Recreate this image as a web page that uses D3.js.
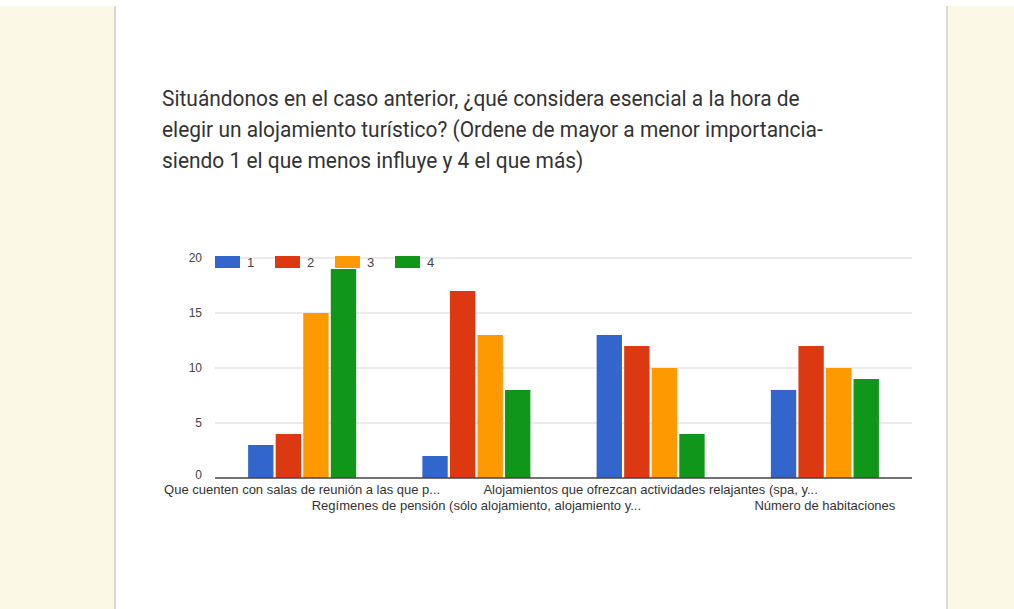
<!DOCTYPE html>
<html>
<head>
<meta charset="utf-8">
<script src="https://cdn.jsdelivr.net/npm/d3@7"></script>
<style>
  body { margin: 0; background: #fff; }
  svg { display: block; }
</style>
</head>
<body>
<svg width="1014" height="609"></svg>
<script>
  // chart data
  const categories = [
    'Que cuenten con salas de reunión a las que p...',
    'Regímenes de pensión (sólo alojamiento, alojamiento y...',
    'Alojamientos que ofrezcan actividades relajantes (spa, y...',
    'Número de habitaciones'
  ];
  const seriesNames = ['1', '2', '3', '4'];
  const series1 = [3, 2, 13, 8];
  const series2 = [4, 17, 12, 12];
  const series3 = [15, 13, 10, 10];
  const series4 = [19, 8, 4, 9];
  const yTicks = [0, 5, 10, 15, 20];
  const colors = ['#3366cc', '#dc3912', '#ff9900', '#109618'];
  const titleLines = [
    'Situándonos en el caso anterior, ¿qué considera esencial a la hora de',
    'elegir un alojamiento turístico? (Ordene de mayor a menor importancia-',
    'siendo 1 el que menos influye y 4 el que más)'
  ];

  const allSeries = [series1, series2, series3, series4];
  const data = categories.map((c, i) => ({
    cat: c,
    values: allSeries.map((s, j) => ({ key: seriesNames[j], value: s[i] }))
  }));

  const svg = d3.select('svg');

  // page background panels
  svg.append('rect').attr('x', 0).attr('y', 6).attr('width', 114).attr('height', 603).attr('fill', '#fbf9e6');
  svg.append('rect').attr('x', 114).attr('y', 6).attr('width', 2).attr('height', 603).attr('fill', '#d8d8d0');
  svg.append('rect').attr('x', 948).attr('y', 6).attr('width', 66).attr('height', 603).attr('fill', '#fbf9e6');
  svg.append('rect').attr('x', 946).attr('y', 6).attr('width', 2).attr('height', 603).attr('fill', '#dcdcd4');

  // title (the screenshot is a bit squeezed sideways, so scale x)
  svg.append('g')
    .selectAll('text')
    .data(titleLines)
    .enter()
    .append('text')
      .attr('transform', (d, i) => 'translate(162,' + (106 + i * 31) + ') scale(0.93,1)')
      .attr('font-family', 'Roboto, sans-serif')
      .attr('font-size', 22.5)
      .attr('fill', '#333')
      .text(d => d);

  const margin = {left: 215, right: 102, top: 258, bottom: 131};
  const width = 1014 - margin.left - margin.right;
  const height = 609 - margin.top - margin.bottom;

  const g = svg.append('g').attr('transform', 'translate(' + margin.left + ',' + margin.top + ')');

  const x0 = d3.scaleBand().domain(categories).range([0, width]).paddingInner(0.38).paddingOuter(0.19);
  const x1 = d3.scaleBand().domain(seriesNames).range([0, x0.bandwidth()]).paddingInner(0.08);
  const y = d3.scaleLinear().domain([0, 20]).range([height, 0]);

  // gridlines
  g.append('g')
    .selectAll('line')
    .data(yTicks.filter(t => t > 0))
    .enter()
    .append('line')
      .attr('x1', 0)
      .attr('x2', width)
      .attr('y1', d => y(d))
      .attr('y2', d => y(d))
      .attr('stroke', '#e4e4e4')
      .attr('stroke-width', 1.5);

  // y labels (the 0 sits a bit higher, just above the category label)
  g.append('g')
    .selectAll('text')
    .data(yTicks)
    .enter()
    .append('text')
      .attr('x', -13)
      .attr('y', d => y(d) + (d === 0 ? 1 : 4))
      .attr('text-anchor', 'end')
      .attr('font-family', 'Liberation Sans, Arial, sans-serif')
      .attr('font-size', 12)
      .attr('fill', '#444')
      .text(d => d);

  // bars
  g.append('g')
    .selectAll('g')
    .data(data)
    .enter()
    .append('g')
      .attr('transform', d => 'translate(' + x0(d.cat) + ',0)')
    .selectAll('rect')
    .data(d => d.values)
    .enter()
    .append('rect')
      .attr('x', d => x1(d.key))
      .attr('y', d => y(d.value))
      .attr('width', x1.bandwidth())
      .attr('height', d => height - y(d.value))
      .attr('fill', (d, i) => colors[i]);

  // baseline
  g.append('line')
    .attr('x1', 0).attr('x2', width)
    .attr('y1', height).attr('y2', height)
    .attr('stroke', '#444').attr('stroke-width', 1.5);

  // x labels, staggered on two rows
  g.append('g')
    .selectAll('text')
    .data(categories)
    .enter()
    .append('text')
      .attr('x', d => x0(d) + x0.bandwidth() / 2)
      .attr('y', (d, i) => height + 16 + (i % 2) * 16)
      .attr('text-anchor', 'middle')
      .attr('font-family', 'Liberation Sans, Arial, sans-serif')
      .attr('font-size', 13)
      .attr('fill', '#333')
      .text(d => d);

  // legend
  const legend = g.append('g')
    .selectAll('g')
    .data(seriesNames)
    .enter()
    .append('g')
      .attr('transform', (d, i) => 'translate(' + (i * 60) + ',-2)');
  legend.append('rect')
    .attr('width', 25).attr('height', 12)
    .attr('fill', (d, i) => colors[i]);
  legend.append('text')
    .attr('x', 32).attr('y', 11)
    .attr('font-family', 'Liberation Sans, Arial, sans-serif')
    .attr('font-size', 13)
    .attr('fill', '#444')
    .text(d => d);
</script>
</body>
</html>
